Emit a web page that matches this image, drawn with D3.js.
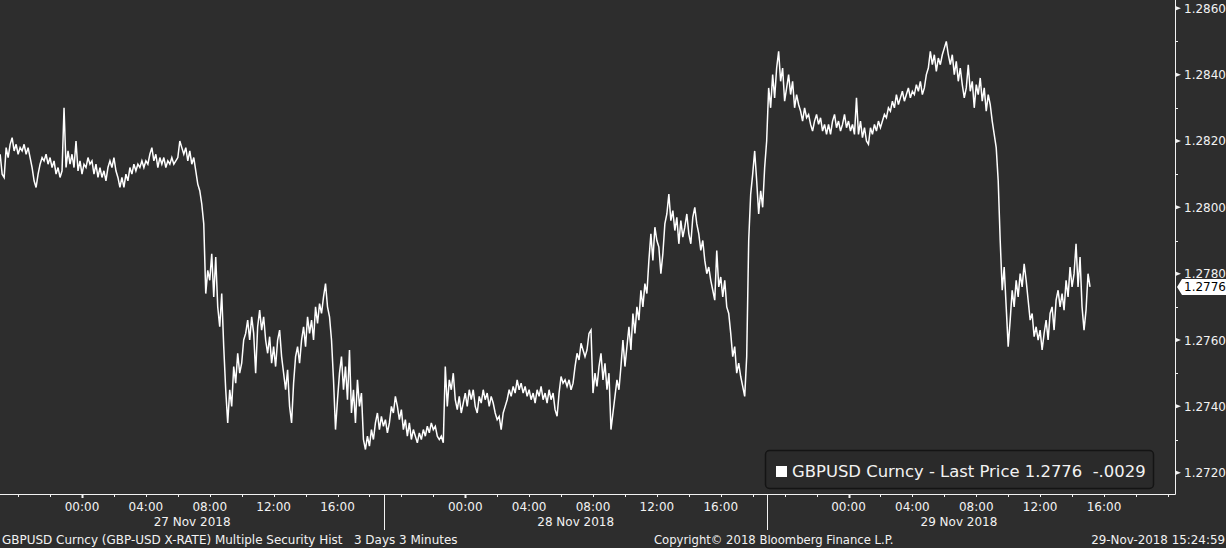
<!DOCTYPE html>
<html><head><meta charset="utf-8">
<script src="https://cdn.jsdelivr.net/npm/d3@7"></script>
<style>
html,body{margin:0;padding:0;background:#2d2d2d;overflow:hidden}
svg{display:block}
text{font-family:"DejaVu Sans",sans-serif}
</style></head><body>
<svg id="c" width="1226" height="548"></svg>
<script>
// ---------------- data ----------------
const seriesName = "GBPUSD Curncy";
const startTime = new Date(2018, 10, 26, 18, 52, 30);
const stepMinutes = 7.5;
const prices = [
1.2816,1.2810,1.2809,1.2818,1.2815,1.2819,1.2821,1.2817,1.2819,1.2816,
1.2818,1.2817,1.2819,1.2816,1.2818,1.2815,1.2812,1.2808,1.2806,1.2810,
1.2813,1.2815,1.2814,1.2816,1.2813,1.2815,1.2812,1.2814,1.2810,1.2812,
1.2809,1.2811,1.2830,1.2812,1.2817,1.2813,1.2816,1.2812,1.2820,1.2811,
1.2814,1.2810,1.2813,1.2812,1.2815,1.2813,1.2814,1.2810,1.2813,1.2809,
1.2812,1.2809,1.2811,1.2808,1.2812,1.2814,1.2812,1.2815,1.2811,1.2809,
1.2806,1.2809,1.2806,1.2810,1.2808,1.2812,1.2810,1.2813,1.2811,1.2813,
1.2812,1.2814,1.2812,1.2814,1.2813,1.2816,1.2818,1.2814,1.2816,1.2812,
1.2815,1.2813,1.2815,1.2812,1.2814,1.2813,1.2815,1.2813,1.2814,1.2815,
1.2820,1.2818,1.2816,1.2818,1.2814,1.2817,1.2813,1.2815,1.2811,1.2807,
1.2805,1.2801,1.2795,1.2774,1.2781,1.2778,1.2786,1.2773,1.2785,1.2770,
1.2764,1.2774,1.2758,1.2745,1.2735,1.2745,1.2740,1.2752,1.2747,1.2756,
1.2750,1.2753,1.2760,1.2762,1.2766,1.2760,1.2767,1.2762,1.2750,1.2764,
1.2769,1.2763,1.2767,1.2760,1.2756,1.2761,1.2753,1.2758,1.2752,1.2760,
1.2763,1.2755,1.2750,1.2745,1.2751,1.2740,1.2735,1.2747,1.2755,1.2758,
1.2753,1.2760,1.2764,1.2758,1.2767,1.2762,1.2766,1.2760,1.2770,1.2765,
1.2771,1.2768,1.2773,1.2777,1.2770,1.2767,1.2760,1.2748,1.2733,1.2742,
1.2750,1.2755,1.2745,1.2752,1.2742,1.2757,1.2738,1.2745,1.2735,1.2748,
1.2740,1.2744,1.2730,1.2727,1.2731,1.2728,1.2733,1.2730,1.2735,1.2738,
1.2733,1.2737,1.2734,1.2736,1.2732,1.2735,1.2740,1.2738,1.2743,1.2740,
1.2736,1.2739,1.2733,1.2736,1.2731,1.2735,1.2730,1.2733,1.2731,1.2729,
1.2732,1.2730,1.2733,1.2731,1.2734,1.2732,1.2735,1.2733,1.2734,1.2731,
1.2730,1.2731,1.2729,1.2752,1.2740,1.2748,1.2745,1.2750,1.2742,1.2739,
1.2743,1.2738,1.2741,1.2744,1.2740,1.2745,1.2742,1.2745,1.2740,1.2738,
1.2743,1.2741,1.2745,1.2742,1.2744,1.2740,1.2743,1.2741,1.2738,1.2736,
1.2737,1.2733,1.2738,1.2740,1.2742,1.2745,1.2743,1.2746,1.2744,1.2748,
1.2745,1.2747,1.2744,1.2746,1.2743,1.2745,1.2742,1.2744,1.2741,1.2745,
1.2743,1.2746,1.2742,1.2744,1.2741,1.2745,1.2742,1.2744,1.2739,1.2737,
1.2744,1.2749,1.2747,1.2748,1.2746,1.2748,1.2745,1.2747,1.2752,1.2756,
1.2754,1.2759,1.2757,1.2755,1.2757,1.2762,1.2763,1.2744,1.2750,1.2746,
1.2752,1.2756,1.2748,1.2753,1.2745,1.2750,1.2733,1.2738,1.2743,1.2748,
1.2745,1.2752,1.2760,1.2752,1.2758,1.2764,1.2757,1.2768,1.2762,1.2770,
1.2766,1.2775,1.2770,1.2777,1.2774,1.2784,1.2792,1.2784,1.2794,1.2790,
1.2788,1.2780,1.2786,1.2795,1.2798,1.2804,1.2796,1.2799,1.2793,1.2797,
1.2789,1.2796,1.2791,1.2794,1.2798,1.2792,1.2789,1.2797,1.2800,1.2795,
1.2792,1.2787,1.2790,1.2784,1.2780,1.2782,1.2778,1.2775,1.2772,1.2787,
1.2776,1.2779,1.2773,1.2778,1.2770,1.2768,1.2762,1.2755,1.2758,1.2750,
1.2753,1.2749,1.2746,1.2743,1.2755,1.2790,1.2804,1.2810,1.2817,1.2808,
1.2798,1.2805,1.2800,1.2812,1.2820,1.2836,1.2830,1.2840,1.2833,1.2842,
1.2847,1.2838,1.2842,1.2832,1.2836,1.2840,1.2834,1.2838,1.2830,1.2834,
1.2831,1.2829,1.2826,1.2830,1.2827,1.2828,1.2825,1.2823,1.2826,1.2828,
1.2825,1.2827,1.2823,1.2825,1.2822,1.2825,1.2822,1.2826,1.2828,1.2824,
1.2826,1.2823,1.2825,1.2828,1.2824,1.2826,1.2823,1.2825,1.2822,1.2833,
1.2822,1.2826,1.2821,1.2824,1.2820,1.2819,1.2824,1.2822,1.2825,1.2823,
1.2826,1.2824,1.2826,1.2828,1.2827,1.2830,1.2829,1.2832,1.2830,1.2834,
1.2831,1.2833,1.2835,1.2832,1.2834,1.2836,1.2833,1.2835,1.2834,1.2837,
1.2835,1.2838,1.2834,1.2836,1.2840,1.2842,1.2847,1.2843,1.2846,1.2841,
1.2845,1.2843,1.2846,1.2848,1.2850,1.2846,1.2843,1.2846,1.2840,1.2844,
1.2838,1.2842,1.2837,1.2833,1.2836,1.2843,1.2835,1.2838,1.2830,1.2837,
1.2834,1.2839,1.2832,1.2836,1.2829,1.2834,1.2831,1.2826,1.2822,1.2818,
1.2808,1.2790,1.2775,1.2782,1.2770,1.2758,1.2766,1.2775,1.2770,1.2778,
1.2773,1.2780,1.2776,1.2783,1.2778,1.2772,1.2766,1.2768,1.2761,1.2764,
1.2760,1.2763,1.2757,1.2762,1.2766,1.2760,1.2768,1.2770,1.2763,1.2772,
1.2775,1.2770,1.2774,1.2769,1.2778,1.2773,1.2782,1.2776,1.2780,1.2789,
1.2776,1.2785,1.2770,1.2763,1.2769,1.2780,1.2776
];
const yTicks = [1.2720, 1.2740, 1.2760, 1.2780, 1.2800, 1.2820, 1.2840, 1.2860];
const labelHours = [0, 4, 8, 12, 16];
const dayLabels = ["27 Nov 2018", "28 Nov 2018", "29 Nov 2018"];
const dayBreaks = [new Date(2018, 10, 27, 18, 55), new Date(2018, 10, 28, 18, 55), new Date(2018, 10, 29, 18, 55)];
const lastPrice = 1.2776;
const netChange = "-.0029";
const legendText = seriesName + " - Last Price " + lastPrice.toFixed(4) + "\u00a0\u00a0" + netChange;
const footerLeft = "GBPUSD Curncy (GBP-USD X-RATE) Multiple Security Hist\u00a0\u00a0\u00a03 Days 3 Minutes";
const footerMid = "Copyright\u00a9 2018 Bloomberg Finance L.P.";
const footerRight = "29-Nov-2018 15:24:59";

// ---------------- layout ----------------
const W = 1226, H = 548;
const plotR = 1175, axisY = 494;
const fg = "#f2f2f2";
const svg = d3.select("#c");
svg.append("rect").attr("width", W).attr("height", H).attr("fill", "#2d2d2d");

const x = d3.scaleTime()
  .domain([new Date(2018, 10, 27, 0, 0), new Date(2018, 10, 29, 16, 0)])
  .range([82, 1104]);
const y = d3.scaleLinear().domain([1.2720, 1.2860]).range([472.7, 8.3]);

const data = prices.map((p, i) => ({ t: new Date(startTime.getTime() + i * stepMinutes * 60000), p }));

svg.append("clipPath").attr("id", "clip").append("rect")
  .attr("x", 0).attr("y", 0).attr("width", plotR).attr("height", axisY);

svg.append("path").datum(data)
  .attr("clip-path", "url(#clip)")
  .attr("fill", "none").attr("stroke", "#ffffff").attr("stroke-width", 1.5)
  .attr("stroke-linejoin", "miter")
  .attr("d", d3.line().x(d => x(d.t)).y(d => y(d.p)));

// axes lines
const ax = svg.append("g").attr("stroke", fg).attr("fill", "none");
ax.append("line").attr("x1", 0).attr("x2", plotR + 0.5).attr("y1", axisY + 0.5).attr("y2", axisY + 0.5);
ax.append("line").attr("x1", plotR + 0.5).attr("x2", plotR + 0.5).attr("y1", 0).attr("y2", axisY + 0.5);

// y axis ticks
const gy = svg.append("g");
yTicks.forEach(v => {
  const yy = y(v);
  gy.append("path").attr("d", `M${plotR + 1},${yy - 2} L${plotR + 6},${yy} L${plotR + 1},${yy + 2}Z`).attr("fill", fg);
  gy.append("text").attr("x", plotR + 9).attr("y", yy + 4.5).attr("fill", fg)
    .attr("font-size", 12).text(v.toFixed(4));
});
for (let i = 0; i < yTicks.length - 1; i++) {
  const yy = Math.round(y((yTicks[i] + yTicks[i + 1]) / 2)) + 0.5;
  gy.append("line").attr("x1", plotR).attr("x2", plotR + 3).attr("y1", yy).attr("y2", yy).attr("stroke", fg);
}

// x axis ticks
const gx = svg.append("g");
const tickTimes = d3.timeHour.every(2).range(x.invert(0), x.invert(plotR));
tickTimes.forEach(t => {
  const xx = Math.round(x(t)) + 0.5;
  const major = t.getHours() === 0;
  gx.append("line").attr("x1", xx).attr("x2", xx).attr("y1", axisY).attr("y2", axisY + (major ? 4 : 3))
    .attr("stroke", fg).attr("stroke-width", major ? 2 : 1);
  if (labelHours.includes(t.getHours())) {
    gx.append("text").attr("x", x(t)).attr("y", axisY + 17).attr("text-anchor", "middle")
      .attr("fill", fg).attr("font-size", 12).text(d3.timeFormat("%H:%M")(t));
  }
});
dayBreaks.slice(0, 2).forEach(b => {
  const xx = Math.round(x(b)) + 0.5;
  gx.append("line").attr("x1", xx).attr("x2", xx).attr("y1", axisY).attr("y2", 530).attr("stroke", fg);
});
const bounds = [x(startTime)].concat(dayBreaks.map(b => x(b)));
dayLabels.forEach((lab, i) => {
  gx.append("text").attr("x", (bounds[i] + bounds[i + 1]) / 2).attr("y", axisY + 32)
    .attr("text-anchor", "middle").attr("fill", fg).attr("font-size", 12).text(lab);
});

function fit(sel, target) {
  const w = sel.node().getComputedTextLength();
  const fs = parseFloat(sel.attr("font-size"));
  sel.attr("font-size", fs * target / w);
}

// footer
const f1 = svg.append("text").attr("x", 2).attr("y", 544).attr("fill", fg).attr("font-size", 12).text(footerLeft);
fit(f1, 456);
const f2 = svg.append("text").attr("x", 654).attr("y", 544).attr("fill", fg).attr("font-size", 12).text(footerMid);
fit(f2, 240);
const f3 = svg.append("text").attr("x", 1225).attr("y", 544).attr("text-anchor", "end").attr("fill", fg).attr("font-size", 12).text(footerRight);
fit(f3, 134);

// legend
const lg = svg.append("g");
lg.append("rect").attr("x", 765.5).attr("y", 450.5).attr("width", 388).attr("height", 38).attr("rx", 4)
  .attr("fill", "#2a2a2a").attr("stroke", "#141414").attr("stroke-width", 1.5);
lg.append("rect").attr("x", 776).attr("y", 466).attr("width", 11).attr("height", 11).attr("fill", "#ffffff");
const lt = lg.append("text").attr("x", 792).attr("y", 477).attr("fill", fg).attr("font-size", 16).text(legendText);
fit(lt, 354);

// last price tag
const ty = y(lastPrice);
svg.append("path").attr("d", `M${plotR + 2},${ty} L${plotR + 7},${ty - 8} H${W} V${ty + 8} H${plotR + 7}Z`)
  .attr("fill", "#ffffff");
svg.append("text").attr("x", plotR + 9).attr("y", ty + 4.5).attr("fill", "#000").attr("font-size", 12)
  .text(lastPrice.toFixed(4));
</script>
</body></html>
